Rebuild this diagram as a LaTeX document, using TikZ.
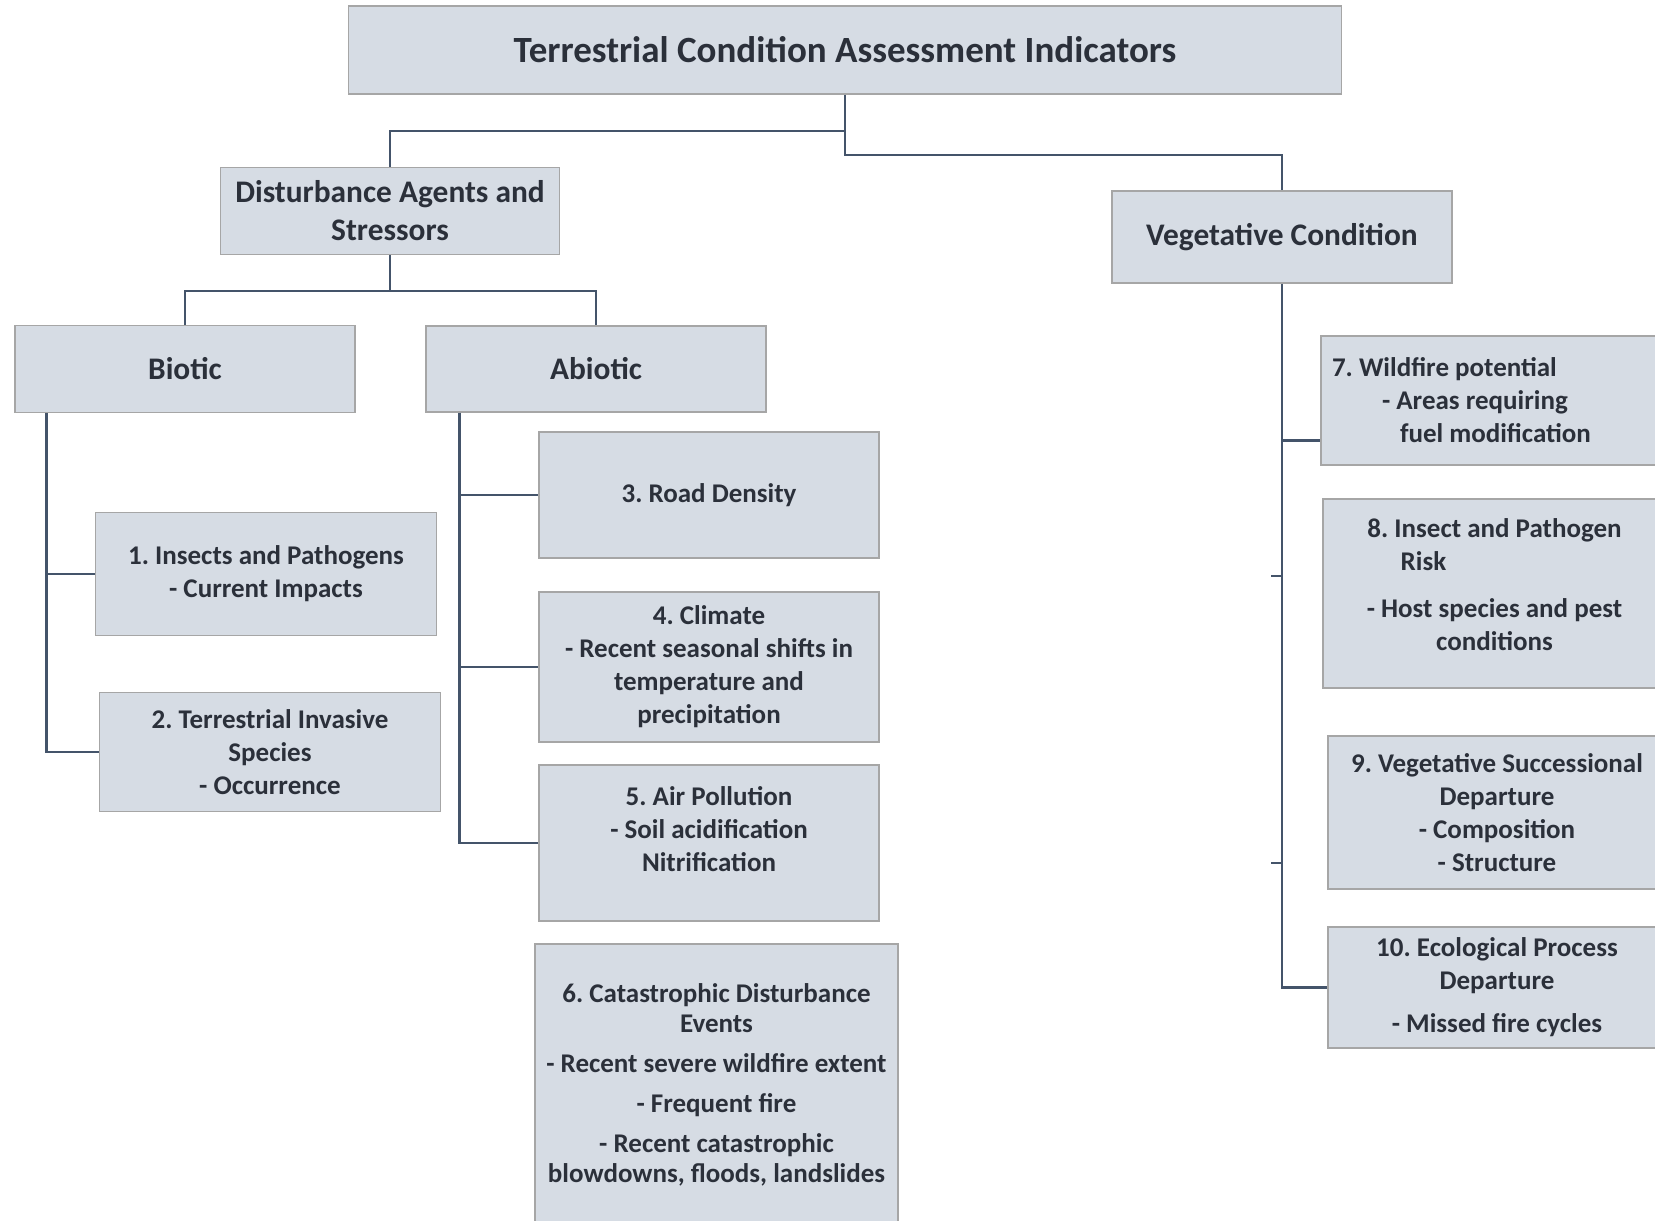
\documentclass[tikz,border=0pt]{standalone}
\usepackage{fontspec}
\setmainfont{Carlito}
\usetikzlibrary{positioning}
\definecolor{boxfill}{HTML}{D6DCE4}
\definecolor{boxline}{HTML}{A6A6A6}
\definecolor{linkline}{HTML}{44546A}
\definecolor{boxtext}{HTML}{2B303A}
\frenchspacing

\begin{document}
\begin{tikzpicture}[x=0.5pt, y=-0.5pt,
    every node/.style={rectangle, draw=boxline, line width=0.8pt, fill=boxfill,
      text=boxtext, inner sep=4pt, align=center},
    head/.style={font=\fontsize{18.5}{21}\selectfont\bfseries},
    group/.style={font=\fontsize{15.7}{19}\selectfont\bfseries},
    leaf/.style={font=\fontsize{13.5}{16.5}\selectfont\bfseries},
    link/.style={draw=linkline, line width=1.3pt}]
    \useasboundingbox (0,0) rectangle (1655,1221);
    \clip (0,0) rectangle (1655,1221);

    % top and second level
    \node[head, minimum width=496.5pt, minimum height=44pt] (n0) at (845,50)
        {Terrestrial Condition Assessment Indicators};
    \node[group, minimum width=169.5pt, minimum height=43.5pt] (n1) at (390,211)
        {Disturbance Agents and\\Stressors};
    \node[group, minimum width=170pt, minimum height=46pt] (n2) at (1282,237)
        {Vegetative Condition};
    \node[group, minimum width=170pt, minimum height=43.5pt] (n3) at (185,369) {Biotic};
    \node[group, minimum width=170pt, minimum height=43pt] (n4) at (596,369) {Abiotic};

    % indicators
    \node[leaf, minimum width=170.5pt, minimum height=61.5pt] (i1) at (266,574)
        {1. Insects and Pathogens\\- Current Impacts};
    \node[leaf, minimum width=170.5pt, minimum height=59.5pt] (i2) at (270,752)
        {2. Terrestrial Invasive\\Species\\- Occurrence};
    \node[leaf, minimum width=170pt, minimum height=63pt] (i3) at (709,495)
        {3. Road Density};
    \node[leaf, minimum width=170pt, minimum height=75pt] (i4) at (709,667)
        {4. Climate\\- Recent seasonal shifts in\\temperature and\\precipitation};
    \node[leaf, minimum width=170pt, minimum height=78pt, text depth=14pt] (i5) at (709,843)
        {5. Air Pollution\\- Soil acidification\\Nitrification};
    \node[leaf, font=\fontsize{13.5}{15}\selectfont\bfseries, minimum width=181.5pt,
          minimum height=141pt] (i6) at (716.5,1085)
        {6. Catastrophic Disturbance\\Events\\[5pt]- Recent severe wildfire extent\\[5pt]
         - Frequent fire\\[5pt]- Recent catastrophic\\blowdowns, floods, landslides};
    \node[leaf, minimum width=172.5pt, minimum height=64.5pt, text width=161.5pt,
          inner xsep=5.5pt, align=left] (i7) at (1493.5,400.5)
        {\spaceskip=0pt\xspaceskip=0pt\relax
         7. Wildfire potential\\\hspace*{25pt}- Areas requiring\\
         \hspace*{34pt}fuel modification};
    \node[leaf, minimum width=171.5pt, minimum height=94.5pt, text depth=9pt] (i8) at (1494.5,593.5)
        {8. Insect and Pathogen\\Risk\hspace*{71pt}\mbox{}\\[7pt]- Host species and pest\\conditions};
    \node[leaf, minimum width=169pt, minimum height=76.5pt] (i9) at (1497,812.5)
        {9. Vegetative Successional\\Departure\\- Composition\\- Structure};
    \node[leaf, minimum width=169pt, minimum height=60.5pt] (i10) at (1497,987.5)
        {10. Ecological Process\\Departure\\[5pt]- Missed fire cycles};

    % connectors
    \draw[link] (n0.south) -- ++(0,36) -| (n1.north);
    \draw[link] (n0.south) -- ++(0,60) -| (n2.north);
    \draw[link] (n1.south) -- ++(0,35.5) -| (n3.north);
    \draw[link] (n1.south) -- ++(0,35.5) -| (n4.north);
    \draw[link] ([xshift=16.25pt]n3.south west) |- (i1.west);
    \draw[link] ([xshift=16.25pt]n3.south west) |- (i2.west);
    \draw[link] ([xshift=17pt]n4.south west) |- (i3.west);
    \draw[link] ([xshift=17pt]n4.south west) |- (i4.west);
    \draw[link] ([xshift=17pt]n4.south west) |- (i5.west);
    \draw[link] (n2.south) |- ([yshift=-20pt]i7.west);
    \draw[link] (n2.south) |- (i10.west);
    \coordinate (t1) at (1271,576);
    \coordinate (t2) at (1271,863);
    \draw[link] (n2.south |- t1) -- (t1);
    \draw[link] (n2.south |- t2) -- (t2);
\end{tikzpicture}
\end{document}
